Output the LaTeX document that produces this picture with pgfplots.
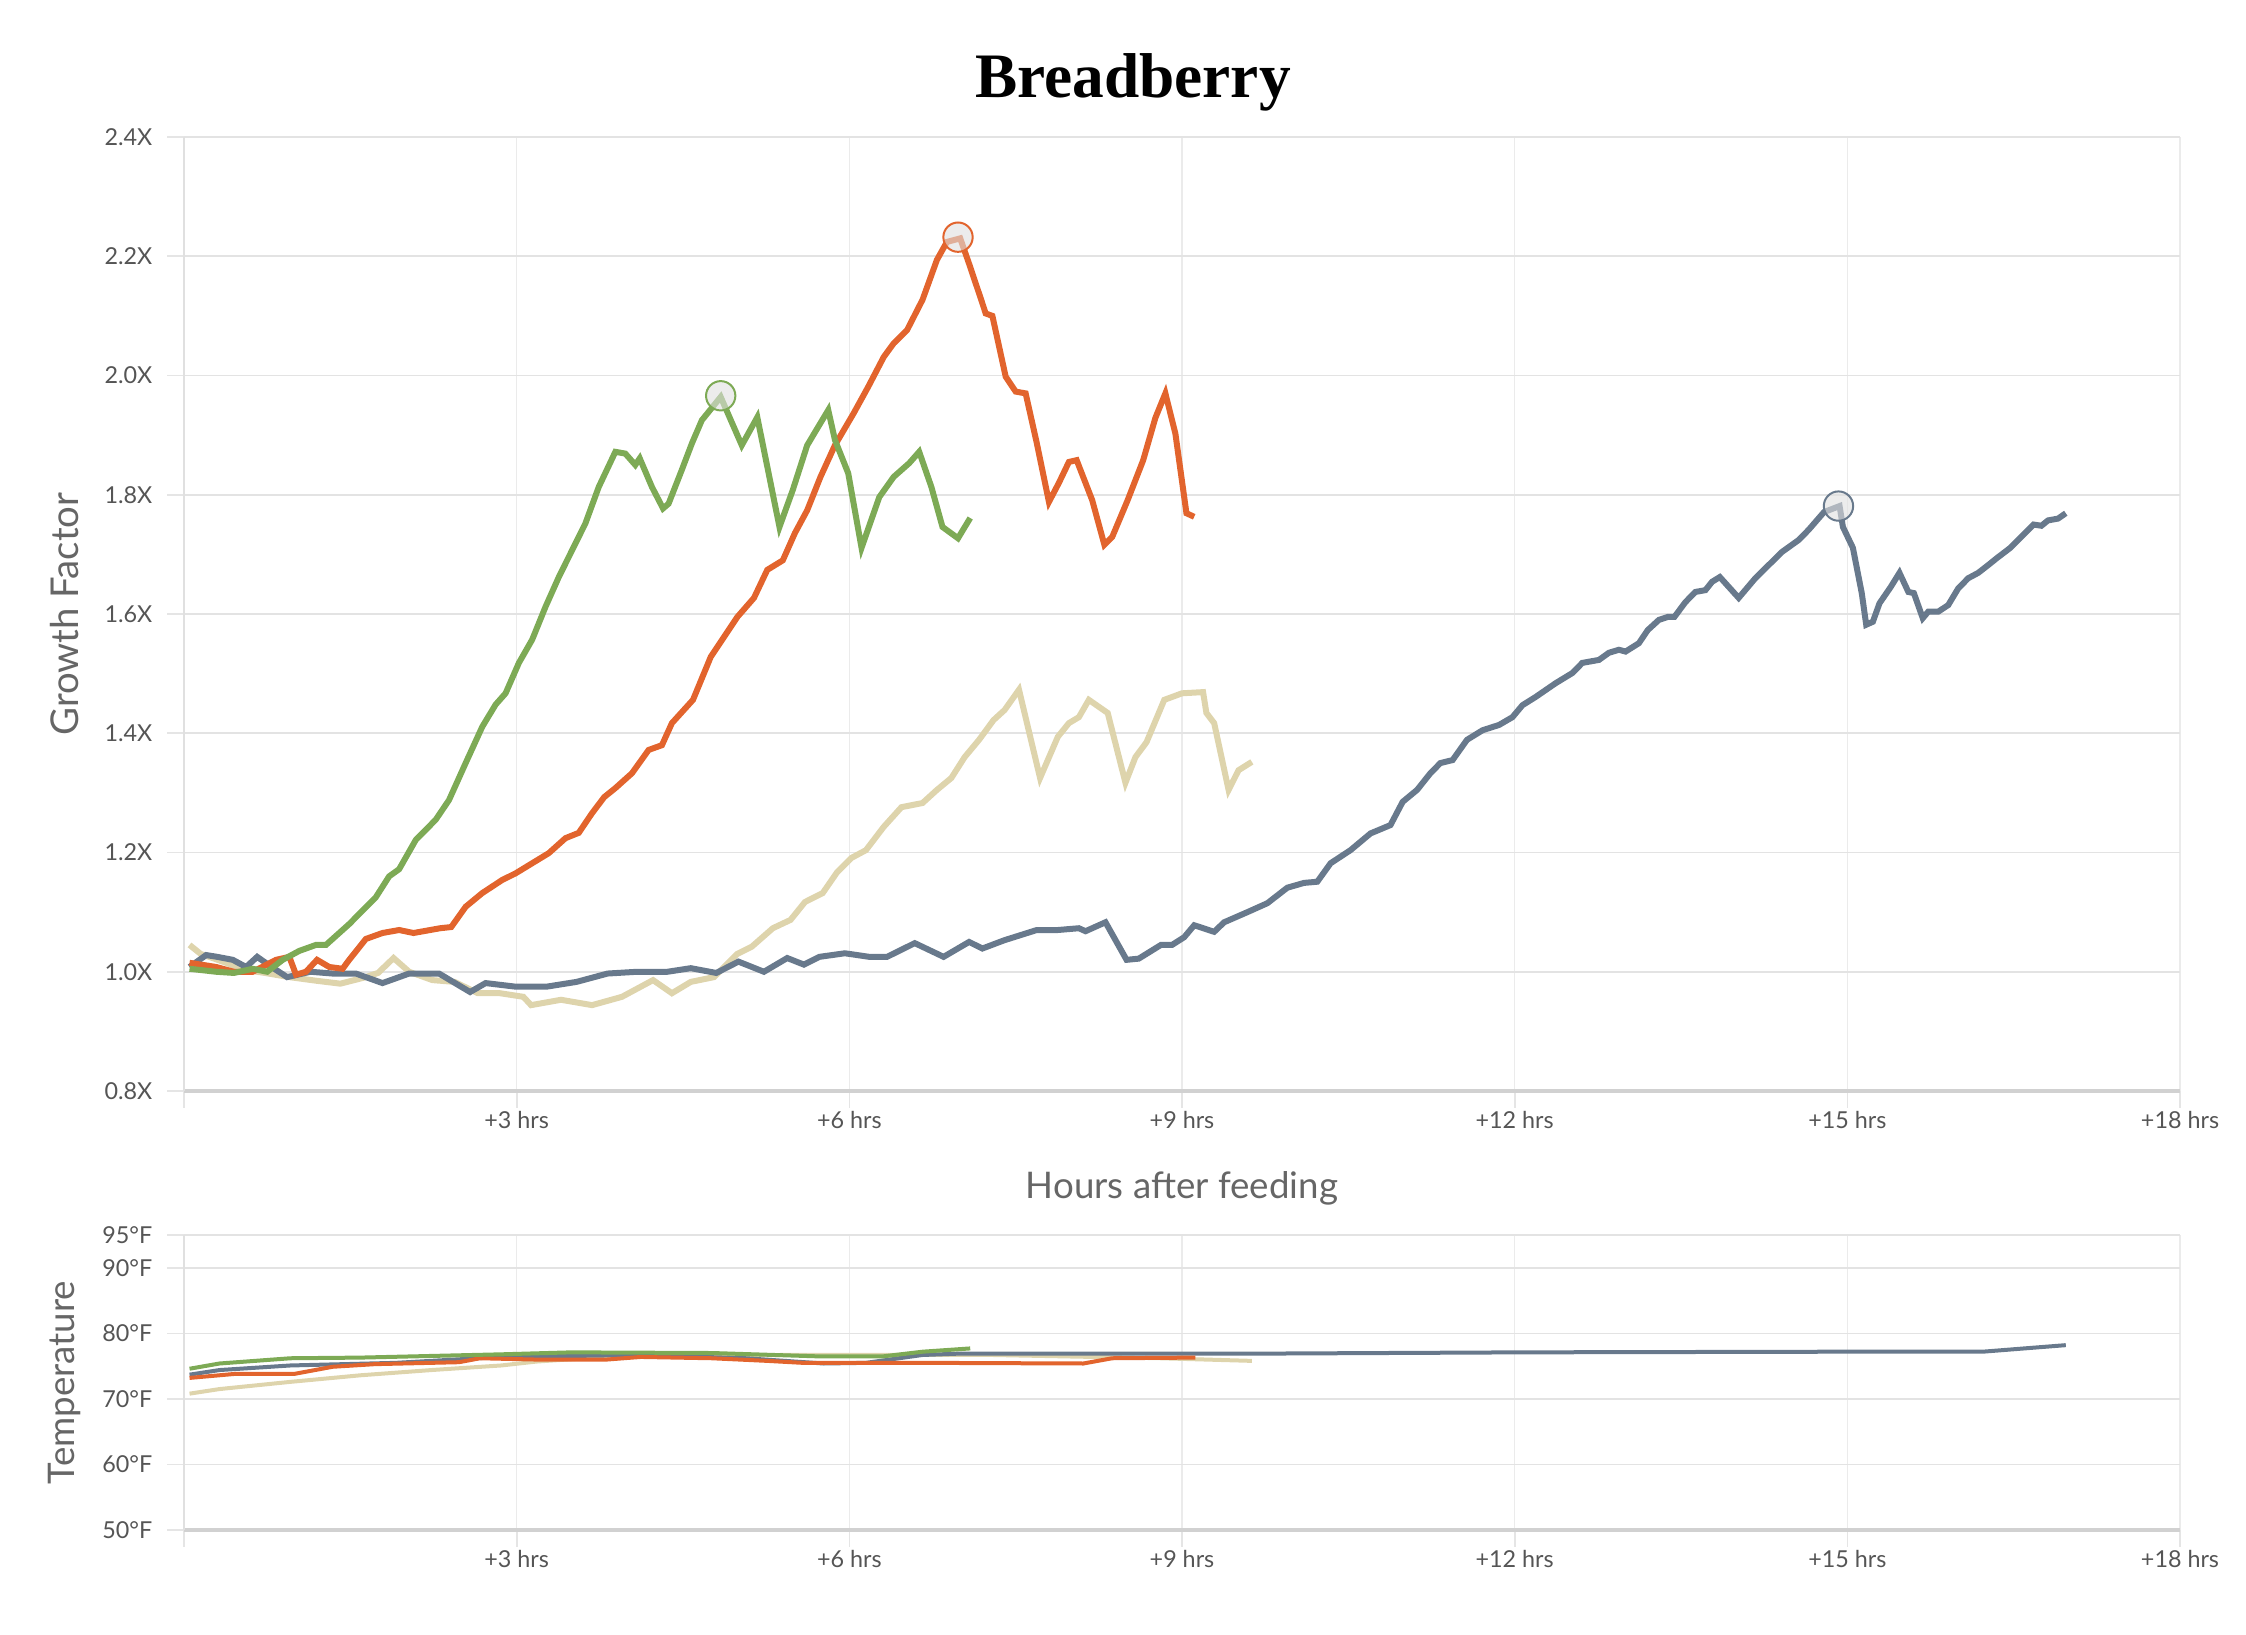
\documentclass[border=0pt]{standalone}
\usepackage{fontspec}
\setmainfont{Lato}
\newfontfamily\titlefont{Liberation Serif}
\usepackage{pgfplots}
\pgfplotsset{compat=1.18}

\definecolor{cGreen}{HTML}{7DAA55}
\definecolor{cOrange}{HTML}{E2642D}
\definecolor{cBeige}{HTML}{DED4AC}
\definecolor{cSlate}{HTML}{68798C}
\definecolor{cLabel}{HTML}{666666}
\definecolor{cTick}{HTML}{555555}

\pgfplotsset{
  breadaxis/.style={
    scale only axis, width=598.8pt,
    xmin=0, xmax=18,
    axis x line=bottom, axis y line=left, separate axis lines,
    x axis line style={-, draw=black!18, line width=1pt},
    y axis line style={-, draw=black!12, line width=0.6pt},
    xtick={0,3,6,9,12,15,18},
    xticklabels={,+3 hrs,+6 hrs,+9 hrs,+12 hrs,+15 hrs,+18 hrs},
    grid=major,
    major x grid style={draw=black!8, line width=0.4pt},
    major y grid style={draw=black!11, line width=0.5pt},
    tick align=outside, major tick length=5pt,
    tick style={draw=black!10, line width=0.5pt},
    tick label style={font=\fontsize{7}{8}\selectfont, text=cTick},
    yticklabel style={xshift=-1pt},
    xticklabel style={yshift=2.3pt},
  }
}

\begin{document}
\begin{tikzpicture}

% growth factor
\begin{axis}[breadaxis, name=main, at={(0,0)}, anchor=south west, height=286.2pt,
    ymin=0.8, ymax=2.4,
    ytick={0.8,1.0,1.2,1.4,1.6,1.8,2.0,2.2,2.4},
    yticklabels={0.8X,1.0X,1.2X,1.4X,1.6X,1.8X,2.0X,2.2X,2.4X}]

\addplot[cBeige, line width=1.8pt] table {
t g
0.05 1.045
0.15 1.03
0.38 1.015
0.55 1.003
0.73 0.998
0.95 0.991
1.19 0.985
1.41 0.98
1.62 0.99
1.75 0.998
1.89 1.023
2.03 1.0
2.24 0.986
2.44 0.983
2.65 0.964
2.85 0.964
3.06 0.958
3.13 0.944
3.40 0.953
3.68 0.944
3.95 0.958
4.23 0.986
4.40 0.964
4.57 0.983
4.78 0.991
4.99 1.03
5.12 1.042
5.31 1.073
5.47 1.087
5.60 1.117
5.76 1.132
5.89 1.167
6.02 1.191
6.15 1.204
6.31 1.243
6.47 1.276
6.66 1.283
6.79 1.305
6.92 1.325
7.04 1.36
7.17 1.389
7.30 1.422
7.40 1.439
7.53 1.473
7.72 1.325
7.88 1.394
7.98 1.417
8.07 1.427
8.16 1.456
8.33 1.434
8.49 1.317
8.58 1.36
8.68 1.385
8.84 1.456
9.00 1.467
9.19 1.469
9.22 1.434
9.29 1.417
9.42 1.305
9.51 1.338
9.63 1.352
};

\addplot[cSlate, line width=1.8pt] table {
t g
0.05 1.008
0.2 1.028
0.3 1.025
0.44 1.02
0.56 1.008
0.66 1.025
0.79 1.008
0.93 0.991
1.14 1.0
1.34 0.997
1.55 0.997
1.79 0.981
2.03 0.997
2.30 0.997
2.58 0.966
2.72 0.981
2.99 0.975
3.27 0.975
3.54 0.983
3.82 0.997
4.09 1.0
4.36 1.0
4.57 1.006
4.80 0.998
5.00 1.017
5.23 1.0
5.44 1.023
5.59 1.012
5.73 1.025
5.96 1.031
6.18 1.025
6.34 1.025
6.59 1.048
6.85 1.025
7.08 1.05
7.20 1.039
7.40 1.053
7.69 1.07
7.88 1.07
8.07 1.073
8.13 1.068
8.31 1.083
8.50 1.02
8.61 1.022
8.81 1.045
8.91 1.045
9.02 1.058
9.11 1.078
9.29 1.067
9.38 1.083
9.59 1.1
9.77 1.115
9.95 1.141
10.10 1.149
10.22 1.151
10.34 1.182
10.52 1.204
10.70 1.232
10.88 1.246
10.99 1.285
11.12 1.305
11.24 1.333
11.33 1.35
11.44 1.355
11.57 1.389
11.71 1.405
11.86 1.414
11.98 1.427
12.07 1.447
12.19 1.461
12.37 1.484
12.52 1.501
12.61 1.518
12.76 1.523
12.85 1.535
12.94 1.54
13.00 1.537
13.12 1.551
13.20 1.573
13.30 1.59
13.38 1.595
13.44 1.595
13.54 1.62
13.63 1.637
13.72 1.64
13.78 1.654
13.85 1.662
14.02 1.627
14.17 1.66
14.29 1.682
14.41 1.704
14.56 1.724
14.65 1.741
14.79 1.771
14.93 1.781
14.96 1.746
15.05 1.711
15.13 1.635
15.17 1.582
15.23 1.587
15.29 1.618
15.39 1.645
15.47 1.669
15.55 1.637
15.60 1.635
15.68 1.593
15.73 1.604
15.82 1.604
15.91 1.615
16.00 1.643
16.09 1.66
16.18 1.669
16.27 1.682
16.35 1.694
16.47 1.711
16.56 1.728
16.68 1.75
16.75 1.748
16.81 1.757
16.90 1.76
16.97 1.769
};

\addplot[cOrange, line width=1.8pt] table {
t g
0.05 1.015
0.29 1.008
0.45 1.0
0.62 1.0
0.83 1.02
0.95 1.025
1.01 0.995
1.10 1.0
1.20 1.02
1.31 1.008
1.43 1.005
1.49 1.02
1.64 1.055
1.79 1.065
1.94 1.07
2.07 1.065
2.31 1.073
2.41 1.075
2.54 1.109
2.69 1.132
2.87 1.154
2.99 1.165
3.14 1.182
3.29 1.199
3.44 1.224
3.56 1.233
3.68 1.266
3.79 1.293
3.89 1.308
4.04 1.333
4.19 1.372
4.31 1.38
4.40 1.417
4.59 1.456
4.75 1.528
4.99 1.595
5.14 1.627
5.26 1.674
5.40 1.69
5.51 1.736
5.62 1.774
5.74 1.83
5.87 1.883
6.04 1.937
6.17 1.981
6.31 2.031
6.40 2.054
6.52 2.076
6.66 2.127
6.79 2.194
6.88 2.224
7.00 2.23
7.09 2.182
7.18 2.132
7.23 2.104
7.29 2.1
7.41 1.998
7.50 1.973
7.59 1.97
7.69 1.887
7.80 1.788
7.89 1.82
7.98 1.855
8.05 1.858
8.19 1.791
8.30 1.716
8.37 1.729
8.51 1.791
8.65 1.858
8.76 1.929
8.85 1.97
8.94 1.903
9.04 1.769
9.11 1.763
};

\addplot[cGreen, line width=1.8pt] table {
t g
0.05 1.005
0.29 1.0
0.45 0.998
0.62 1.005
0.75 1.0
0.89 1.02
1.04 1.035
1.19 1.045
1.28 1.045
1.49 1.08
1.73 1.125
1.85 1.16
1.94 1.172
2.09 1.221
2.27 1.255
2.39 1.288
2.54 1.35
2.69 1.411
2.81 1.448
2.90 1.467
3.02 1.518
3.14 1.557
3.26 1.612
3.38 1.662
3.50 1.707
3.62 1.752
3.74 1.813
3.89 1.872
3.98 1.869
4.07 1.85
4.11 1.861
4.22 1.813
4.32 1.777
4.37 1.785
4.49 1.842
4.58 1.886
4.67 1.925
4.84 1.964
5.03 1.883
5.17 1.93
5.37 1.746
5.49 1.808
5.62 1.883
5.81 1.942
5.87 1.892
5.99 1.836
6.11 1.711
6.27 1.796
6.40 1.83
6.54 1.853
6.63 1.872
6.74 1.813
6.84 1.746
6.98 1.727
7.09 1.761
};

% peak markers
\addplot[only marks, mark=*, mark size=4.4pt,
  mark options={fill=black!12, fill opacity=0.6, draw=cGreen, line width=0.6pt}]
  coordinates {(4.84,1.966)};
\addplot[only marks, mark=*, mark size=4.4pt,
  mark options={fill=black!12, fill opacity=0.6, draw=cOrange, line width=0.6pt}]
  coordinates {(6.98,2.232)};
\addplot[only marks, mark=*, mark size=4.4pt,
  mark options={fill=black!12, fill opacity=0.6, draw=cSlate, line width=0.6pt}]
  coordinates {(14.92,1.781)};
\end{axis}

% temperature
\begin{axis}[breadaxis, name=temp, at={(0,-43.2pt)}, anchor=north west, height=88.5pt,
    ymin=50, ymax=95,
    ytick={50,60,70,80,90,95},
    yticklabels={50°F,60°F,70°F,80°F,90°F,95°F}]

\addplot[cBeige, line width=1.2pt] table {
t f
0.05 70.8
0.32 71.5
0.96 72.6
1.59 73.6
2.23 74.4
2.86 75.1
3.18 75.7
3.81 76.4
5.39 76.7
7.29 76.7
8.81 76.2
9.63 75.8
};
\addplot[cSlate, line width=1.2pt] table {
t f
0.05 73.7
0.32 74.4
0.96 75.1
1.91 75.5
2.86 76.4
4.12 76.7
5.07 76.2
5.77 75.4
6.15 75.5
6.66 76.7
6.98 76.9
9.62 76.9
12.05 77.1
14.93 77.2
16.22 77.2
16.97 78.2
};
\addplot[cOrange, line width=1.2pt] table {
t f
0.05 73.2
0.45 73.8
0.99 73.8
1.34 74.9
1.72 75.3
2.48 75.6
2.67 76.2
3.18 76.0
3.81 76.0
4.12 76.4
4.76 76.2
5.26 75.8
5.58 75.5
6.66 75.5
8.11 75.4
8.37 76.2
9.12 76.3
};
\addplot[cGreen, line width=1.2pt] table {
t f
0.05 74.6
0.32 75.4
0.96 76.2
1.59 76.3
2.86 76.8
3.49 77.1
4.76 77.0
5.70 76.5
6.31 76.5
6.66 77.2
7.09 77.7
};
\end{axis}

% titles and axis labels
\node[anchor=base, font=\titlefont\bfseries\fontsize{19}{22}\selectfont]
  at ([xshift=284.7pt, yshift=11.7pt]main.north west) {Breadberry};
\node[rotate=90, font=\fontsize{11.5}{13}\selectfont, text=cLabel]
  at ([xshift=-35.7pt]main.west) {Growth Factor};
\node[anchor=base, font=\fontsize{11}{13}\selectfont, text=cLabel]
  at ([yshift=-32.1pt]main.south) {Hours after feeding};
\node[rotate=90, font=\fontsize{11}{13}\selectfont, text=cLabel]
  at ([xshift=-35.7pt]temp.west) {Temperature};

\pgfresetboundingbox
\path[use as bounding box] (-55.2pt,-162.9pt) rectangle (618.6pt,327.3pt);
\end{tikzpicture}
\end{document}
